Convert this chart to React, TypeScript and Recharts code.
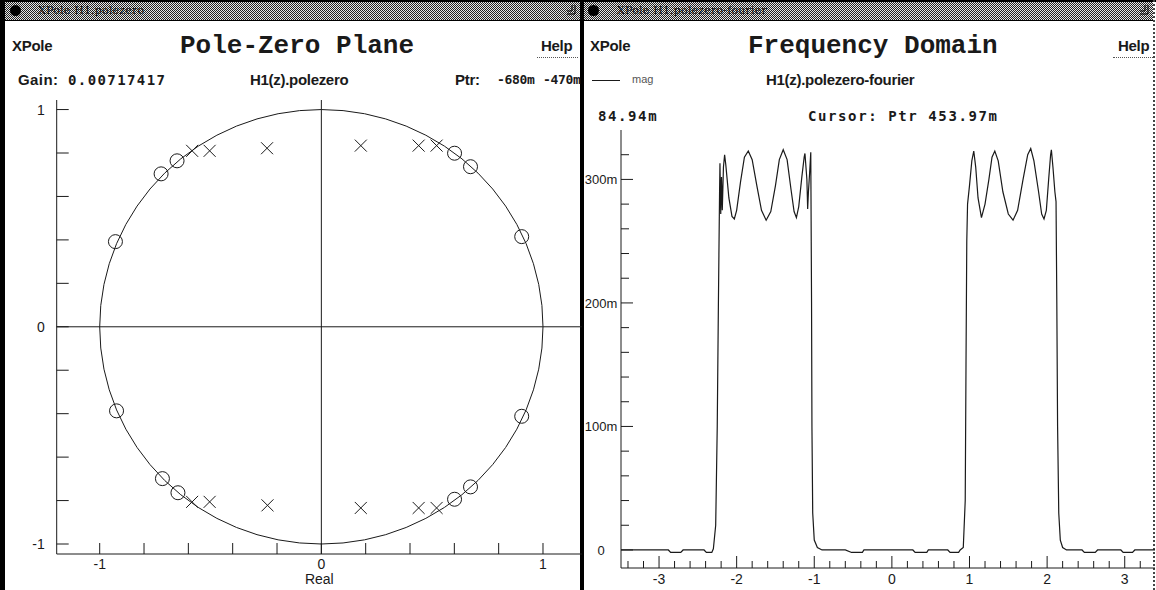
import React from 'react';
import {
  ScatterChart,
  Scatter,
  LineChart,
  Line,
  XAxis,
  YAxis,
  ReferenceLine,
  ReferenceArea,
} from 'recharts';

// pole-zero plane
const zeroRe = [-0.929, -0.723, -0.651, 0.601, 0.673, 0.904, -0.924, -0.717, -0.647, 0.601, 0.673, 0.904];
const zeroIm = [0.392, 0.704, 0.764, 0.799, 0.737, 0.415, -0.387, -0.699, -0.764, -0.794, -0.737, -0.412];
const poleRe = [-0.583, -0.504, -0.245, 0.178, 0.439, 0.52, -0.583, -0.504, -0.243, 0.178, 0.439, 0.52];
const poleIm = [0.81, 0.81, 0.822, 0.834, 0.834, 0.834, -0.806, -0.806, -0.822, -0.834, -0.834, -0.834];
const pzTicks = [-1, -0.8, -0.6, -0.4, -0.2, 0, 0.2, 0.4, 0.6, 0.8, 1];

// frequency domain, magnitude in milli-units
const freqW = [
  -3.49, -3.2, -2.95, -2.88, -2.85, -2.72, -2.69, -2.42, -2.39, -2.32, -2.3, -2.27, -2.25, -2.235, -2.22,
  -2.215, -2.205, -2.195, -2.185, -2.17, -2.155, -2.14, -2.1, -2.06, -2.03, -2.0, -1.95, -1.9, -1.85, -1.8,
  -1.74, -1.68, -1.62, -1.56, -1.5, -1.45, -1.4, -1.35, -1.3, -1.26, -1.23, -1.2, -1.16, -1.13, -1.12,
  -1.095, -1.085, -1.075, -1.06, -1.045, -1.035, -1.03, -1.02, -1.0, -0.96, -0.9, -0.6, -0.52, -0.5, -0.38,
  -0.36, 0.0, 0.27, 0.3, 0.45, 0.47, 0.72, 0.75, 0.86, 0.88, 0.92, 0.945, 0.955, 0.965, 0.975,
  1.0, 1.03, 1.055, 1.08, 1.11, 1.154, 1.2, 1.25, 1.29, 1.326, 1.37, 1.43, 1.5, 1.561, 1.62,
  1.69, 1.75, 1.789, 1.83, 1.89, 1.93, 1.96, 1.99, 2.02, 2.045, 2.055, 2.075, 2.1, 2.115, 2.125,
  2.135, 2.15, 2.17, 2.2, 2.25, 2.45, 2.48, 2.62, 2.65, 2.95, 2.98, 3.1, 3.13, 3.39,
];
const freqMag = [
  0, 0, 0, 0, -2, -2, 0, 0, -2, -2, 1, 20, 100, 200, 290,
  313, 272, 302, 275, 310, 320, 312, 285, 270, 268, 275, 298, 318, 323, 316,
  295, 275, 267, 274, 295, 316, 324, 316, 292, 274, 269, 278, 302, 318, 321,
  300, 276, 290, 305, 322, 200, 100, 30, 8, 2, 0, 0, -2, -2, -2,
  0, 0, 0, -2, -2, 0, 0, -2, -2, 0, 2, 40, 150, 250, 280,
  295, 315, 323, 310, 285, 269, 280, 300, 318, 323, 315, 290, 272, 267, 275,
  300, 320, 325, 315, 290, 272, 268, 275, 300, 320, 324, 310, 290, 282, 200,
  100, 30, 8, 2, 0, 0, -2, -2, 0, 0, -2, -2, 0, 0,
];
const fqYTicks = [0, 20, 40, 60, 80, 100, 120, 140, 160, 180, 200, 220, 240, 260, 280, 300, 320];
const fqXTicks = [
  -3.4, -3.2, -3, -2.8, -2.6, -2.4, -2.2, -2, -1.8, -1.6, -1.4, -1.2, -1, -0.8, -0.6, -0.4, -0.2, 0,
  0.2, 0.4, 0.6, 0.8, 1, 1.2, 1.4, 1.6, 1.8, 2, 2.2, 2.4, 2.6, 2.8, 3, 3.2,
];

const zeros = zeroRe.map((re, i) => ({ re, im: zeroIm[i] }));
const poles = poleRe.map((re, i) => ({ re, im: poleIm[i] }));
const freqData = freqW.map((w, i) => ({ w, mag: freqMag[i] }));

const INK = '#1a1a1a';
const SANS = '"Liberation Sans", Arial, sans-serif';
const MONO = '"DejaVu Sans Mono", monospace';
const isInt = (v: number) => Math.abs(v - Math.round(v)) < 1e-6;

const Cross = (p: any) => (
  <g stroke={INK} strokeWidth={1}>
    <line x1={p.cx - 6} y1={p.cy - 6} x2={p.cx + 6} y2={p.cy + 6} />
    <line x1={p.cx - 6} y1={p.cy + 6} x2={p.cx + 6} y2={p.cy - 6} />
  </g>
);
const Ring = (p: any) => <circle cx={p.cx} cy={p.cy} r={7} fill="none" stroke={INK} strokeWidth={1} />;
const UnitCircle = (p: any) => (
  <ellipse cx={p.x + p.width / 2} cy={p.y + p.height / 2} rx={p.width / 2} ry={p.height / 2} fill="none" stroke={INK} strokeWidth={1} />
);

const PzYTick = ({ x, y, payload }: any) => (
  <g>
    <line x1={x} y1={y} x2={x + 12} y2={y} stroke={INK} />
    {isInt(payload.value) && (
      <text x={x - 12} y={y + 5} textAnchor="end" fontSize={14} fontFamily={SANS} fill={INK}>
        {Math.round(payload.value)}
      </text>
    )}
  </g>
);
const PzXTick = ({ x, y, payload }: any) => (
  <g>
    <line x1={x} y1={y} x2={x} y2={y - 11} stroke={INK} />
    {isInt(payload.value) && (
      <text x={x} y={y + 15} textAnchor="middle" fontSize={14} fontFamily={SANS} fill={INK}>
        {Math.round(payload.value)}
      </text>
    )}
  </g>
);
const FqYTick = ({ x, y, payload }: any) => {
  const v = payload.value;
  const major = v % 100 === 0;
  return (
    <g>
      <line x1={x} y1={y} x2={x + (major ? 12 : 8)} y2={y} stroke={INK} />
      {major && (
        <text x={x - 20} y={y + 5} textAnchor="middle" fontSize={13} fontFamily={SANS} fill={INK}>
          {v === 0 ? '0' : `${v}m`}
        </text>
      )}
    </g>
  );
};
const FqXTick = ({ x, y, payload }: any) => {
  const major = isInt(payload.value);
  return (
    <g>
      <line x1={x} y1={y} x2={x} y2={y - (major ? 12 : 7)} stroke={INK} />
      {major && (
        <text x={x} y={y + 16} textAnchor="middle" fontSize={14} fontFamily={SANS} fill={INK}>
          {Math.round(payload.value)}
        </text>
      )}
    </g>
  );
};

const stipple = {
  backgroundImage: 'repeating-conic-gradient(#222 0% 25%, #e6e6e6 0% 50%)',
  backgroundSize: '2px 2px',
};

function TitleBar({ left, width, label, dot }: { left: number; width: number; label: string; dot: number }) {
  return (
    <div style={{ position: 'absolute', left, top: 2, width, height: 18, ...stipple, borderBottom: '1px solid #000' }}>
      <div style={{ position: 'absolute', left: dot, top: 3, width: 11, height: 11, borderRadius: 6, background: '#000' }} />
      <span
        style={{
          position: 'absolute', left: 33, top: 2, fontSize: 11, lineHeight: '13px',
          fontFamily: '"DejaVu Serif", serif', color: '#111', letterSpacing: 0.2,
        }}
      >
        {label}
      </span>
      <svg style={{ position: 'absolute', right: 2, top: 2 }} width={12} height={13}>
        <path d="M9 1 V10 H1 M6 1 V7 H1" fill="none" stroke="#000" />
      </svg>
    </div>
  );
}

const txt = (left: number, top: number, s: string, style: React.CSSProperties = {}) => (
  <div style={{ position: 'absolute', left, top, whiteSpace: 'nowrap', lineHeight: 1, color: INK, ...style }}>{s}</div>
);

const bold = { fontFamily: SANS, fontWeight: 700, fontSize: 15, letterSpacing: -0.3 } as React.CSSProperties;
const mono = (spacing: number, size = 14) =>
  ({ fontFamily: MONO, fontWeight: 700, fontSize: size, letterSpacing: spacing } as React.CSSProperties);
const title = { fontFamily: '"Liberation Mono", monospace', fontWeight: 700, fontSize: 26 } as React.CSSProperties;
const dotted = { position: 'absolute', borderBottom: '1px dotted #555' } as React.CSSProperties;

export default function App() {
  return (
    <div style={{ position: 'absolute', left: 0, top: 0, width: 1156, height: 590, background: '#fff', overflow: 'hidden' }}>
      {/* window frames */}
      <div style={{ position: 'absolute', left: 0, top: 0, width: 1156, height: 2, background: '#000' }} />
      <div style={{ position: 'absolute', left: 0, top: 0, width: 5, height: 590, background: '#000' }} />
      <div style={{ position: 'absolute', left: 580, top: 0, width: 4, height: 590, background: '#000' }} />
      <div style={{ position: 'absolute', left: 1153, top: 0, width: 0, height: 590, borderLeft: '2px dotted #444' }} />
      <TitleBar left={5} width={575} label="XPole H1.polezero" dot={5} />
      <TitleBar left={584} width={569} label="XPole H1.polezero-fourier" dot={4} />

      {/* left window header */}
      {txt(12, 38, 'XPole', bold)}
      {txt(180, 33, 'Pole-Zero Plane', title)}
      {txt(541, 38, 'Help', bold)}
      <div style={{ ...dotted, left: 537, top: 57, width: 41 }} />
      {txt(18, 72, 'Gain:', { ...bold, letterSpacing: 0.4 })}
      {txt(68, 73, '0.00717417', mono(1.4))}
      {txt(250, 72, 'H1(z).polezero', bold)}
      {txt(455, 72, 'Ptr:', bold)}
      {txt(497, 73, '-680m', mono(-0.3, 13))}
      {txt(543, 73, '-470m', mono(-0.3, 13))}

      {/* right window header */}
      {txt(590, 38, 'XPole', bold)}
      {txt(748, 33, 'Frequency Domain', title)}
      {txt(1118, 38, 'Help', bold)}
      <div style={{ ...dotted, left: 1113, top: 57, width: 40 }} />
      <div style={{ position: 'absolute', left: 592, top: 80, width: 28, height: 1, background: INK }} />
      {txt(632, 74, 'mag', { fontFamily: SANS, fontSize: 11, color: '#555' })}
      {txt(766, 72, 'H1(z).polezero-fourier', bold)}
      {txt(598, 109, '84.94m', mono(1.6))}
      {txt(808, 109, 'Cursor: Ptr 453.97m', mono(1.6))}

      {/* pole-zero plot */}
      <div style={{ position: 'absolute', left: 0, top: 90, width: 582, height: 500 }}>
        <ScatterChart width={582} height={500} margin={{ top: 10, right: 0, bottom: 0, left: 0 }}>
          <XAxis
            type="number"
            dataKey="re"
            domain={[-1.194, 1.176]}
            allowDataOverflow
            ticks={pzTicks}
            interval={0}
            height={36}
            tickSize={0}
            tickMargin={0}
            tickLine={false}
            stroke={INK}
            tick={<PzXTick />}
            label={{ value: 'Real', position: 'insideBottom', offset: 6, fontSize: 14, fontFamily: SANS, fill: INK }}
          />
          <YAxis
            type="number"
            dataKey="im"
            domain={[-1.046, 1.044]}
            allowDataOverflow
            ticks={pzTicks}
            interval={0}
            width={56.7}
            tickSize={0}
            tickMargin={0}
            tickLine={false}
            stroke={INK}
            tick={<PzYTick />}
          />
          <ReferenceLine x={0} stroke={INK} />
          <ReferenceLine y={0} stroke={INK} />
          <ReferenceArea x1={-1} x2={1} y1={-1} y2={1} ifOverflow="visible" shape={<UnitCircle />} />
          <Scatter data={zeros} shape={<Ring />} isAnimationActive={false} />
          <Scatter data={poles} shape={<Cross />} isAnimationActive={false} />
        </ScatterChart>
      </div>

      {/* frequency plot */}
      <div style={{ position: 'absolute', left: 583, top: 120, width: 573, height: 470 }}>
        <LineChart data={freqData} width={573} height={470} margin={{ top: 10, right: 1, bottom: 0, left: 0 }}>
          <XAxis
            type="number"
            dataKey="w"
            domain={[-3.49, 3.39]}
            allowDataOverflow
            ticks={fqXTicks}
            interval={0}
            height={22}
            tickSize={0}
            tickMargin={0}
            tickLine={false}
            stroke={INK}
            tick={<FqXTick />}
          />
          <YAxis
            type="number"
            domain={[-14.6, 340]}
            allowDataOverflow
            ticks={fqYTicks}
            interval={0}
            width={38}
            tickSize={0}
            tickMargin={0}
            tickLine={false}
            stroke={INK}
            tick={<FqYTick />}
          />
          <Line type="linear" dataKey="mag" stroke={INK} strokeWidth={1.2} dot={false} isAnimationActive={false} />
        </LineChart>
      </div>
    </div>
  );
}
